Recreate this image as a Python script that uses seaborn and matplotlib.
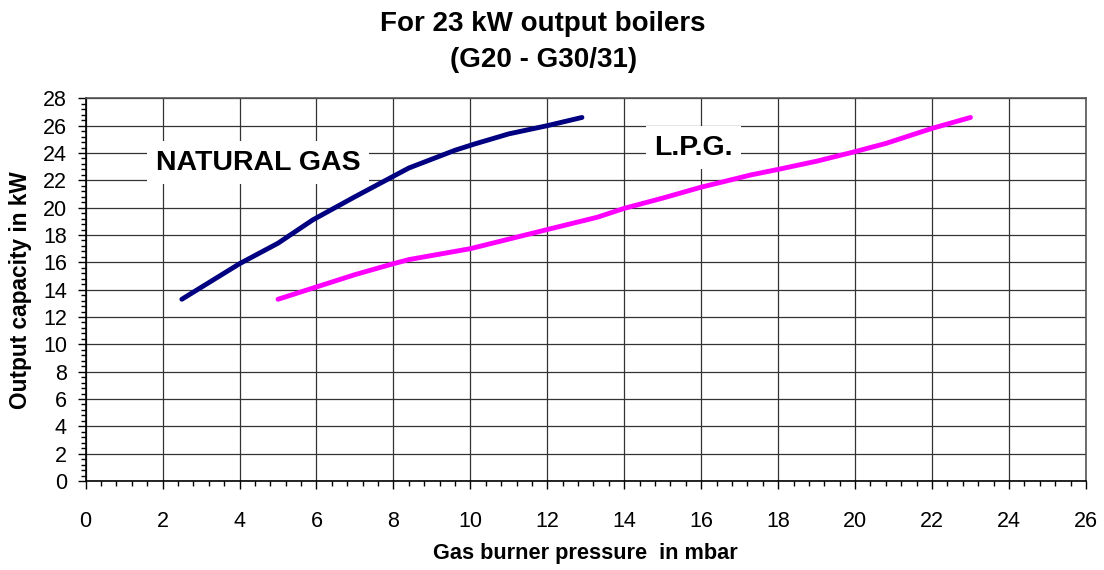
import matplotlib
matplotlib.use("Agg")
import matplotlib.pyplot as plt
import seaborn as sns
import pandas as pd
from matplotlib.ticker import MultipleLocator

# Burner pressure (mbar) vs output capacity (kW)
ng_pressure = [2.5, 4.0, 5.0, 5.9, 7.0, 8.0, 8.4, 9.6, 10.1, 11.0, 12.0, 12.9]
ng_output = [13.3, 15.9, 17.4, 19.1, 20.8, 22.3, 22.9, 24.2, 24.65, 25.4, 26.0, 26.6]

lpg_pressure = [5.0, 6.0, 7.0, 8.0, 8.4, 10.0, 11.0, 12.0, 13.3, 14.0, 15.0, 16.0, 17.3, 18.0, 19.0, 20.0, 20.8, 22.0, 23.0]
lpg_output = [13.3, 14.2, 15.1, 15.9, 16.2, 17.0, 17.7, 18.4, 19.3, 19.95, 20.7, 21.5, 22.4, 22.8, 23.4, 24.1, 24.7, 25.8, 26.6]

series_names = ["NATURAL GAS", "L.P.G."]
series_colors = ["#000080", "#FF00FF"]

x_ticks = list(range(0, 27, 2))
y_ticks = list(range(0, 29, 2))

title_lines = ["For 23 kW output boilers", "(G20 - G30/31)"]
x_label = "Gas burner pressure  in mbar"
y_label = "Output capacity in kW"

df = pd.DataFrame({
    "pressure": ng_pressure + lpg_pressure,
    "output": ng_output + lpg_output,
    "gas": [series_names[0]] * len(ng_pressure) + [series_names[1]] * len(lpg_pressure),
})

sns.set_theme(style="white")
plt.rcParams["font.family"] = ["Liberation Sans", "DejaVu Sans"]
plt.rcParams.update({
    "text.color": "black",
    "axes.labelcolor": "black",
    "xtick.color": "black",
    "ytick.color": "black",
})

fig = plt.figure(figsize=(11.04, 5.70), dpi=100)
ax = fig.add_axes([0.0776, 0.1561, 0.906, 0.6714])

sns.lineplot(data=df, x="pressure", y="output", hue="gas", sort=False,
             palette=dict(zip(series_names, series_colors)), linewidth=3.5,
             legend=False, ax=ax, solid_capstyle="round", zorder=3)

ax.set_xlim(0, 26)
ax.set_ylim(0, 28)
ax.set_xticks(x_ticks)
ax.set_yticks(y_ticks)
ax.xaxis.set_minor_locator(MultipleLocator(0.4))
ax.yaxis.set_minor_locator(MultipleLocator(0.4))
ax.grid(True, which="major", color="#333333", linewidth=0.9)
ax.set_axisbelow(True)

ax.tick_params(axis="both", which="major", labelsize=15.5, labelcolor="black",
               color="black", direction="out", width=1.0, length=5.5)
ax.tick_params(axis="both", which="minor", direction="out", width=1.0, length=3.5,
               color="black")
ax.tick_params(axis="x", which="both", bottom=True, pad=16)
ax.tick_params(axis="y", which="both", left=True, pad=8)

for side, sp in ax.spines.items():
    sp.set_color("#555555" if side in ("top", "right") else "black")
    sp.set_linewidth(1.2)

ax.set_xlabel(x_label, fontsize=15.7, fontweight="bold", labelpad=8)
ax.set_ylabel(y_label, fontsize=16.3, fontweight="bold", labelpad=8)

fig.text(0.492, 1 - 24 / 570, title_lines[0], ha="center", va="center",
         fontsize=20, fontweight="bold")
fig.text(0.492, 1 - 60 / 570, title_lines[1], ha="center", va="center",
         fontsize=20, fontweight="bold")

box = dict(boxstyle="square,pad=0.3", facecolor="white", edgecolor="none")
ax.text(4.48, 23.3, series_names[0], fontsize=20.5, fontweight="bold",
        ha="center", va="center", bbox=box, zorder=4)
ax.text(15.8, 24.4, series_names[1], fontsize=20.5, fontweight="bold",
        ha="center", va="center", bbox=box, zorder=4)

fig.savefig("out.png", dpi=100, facecolor="white")
